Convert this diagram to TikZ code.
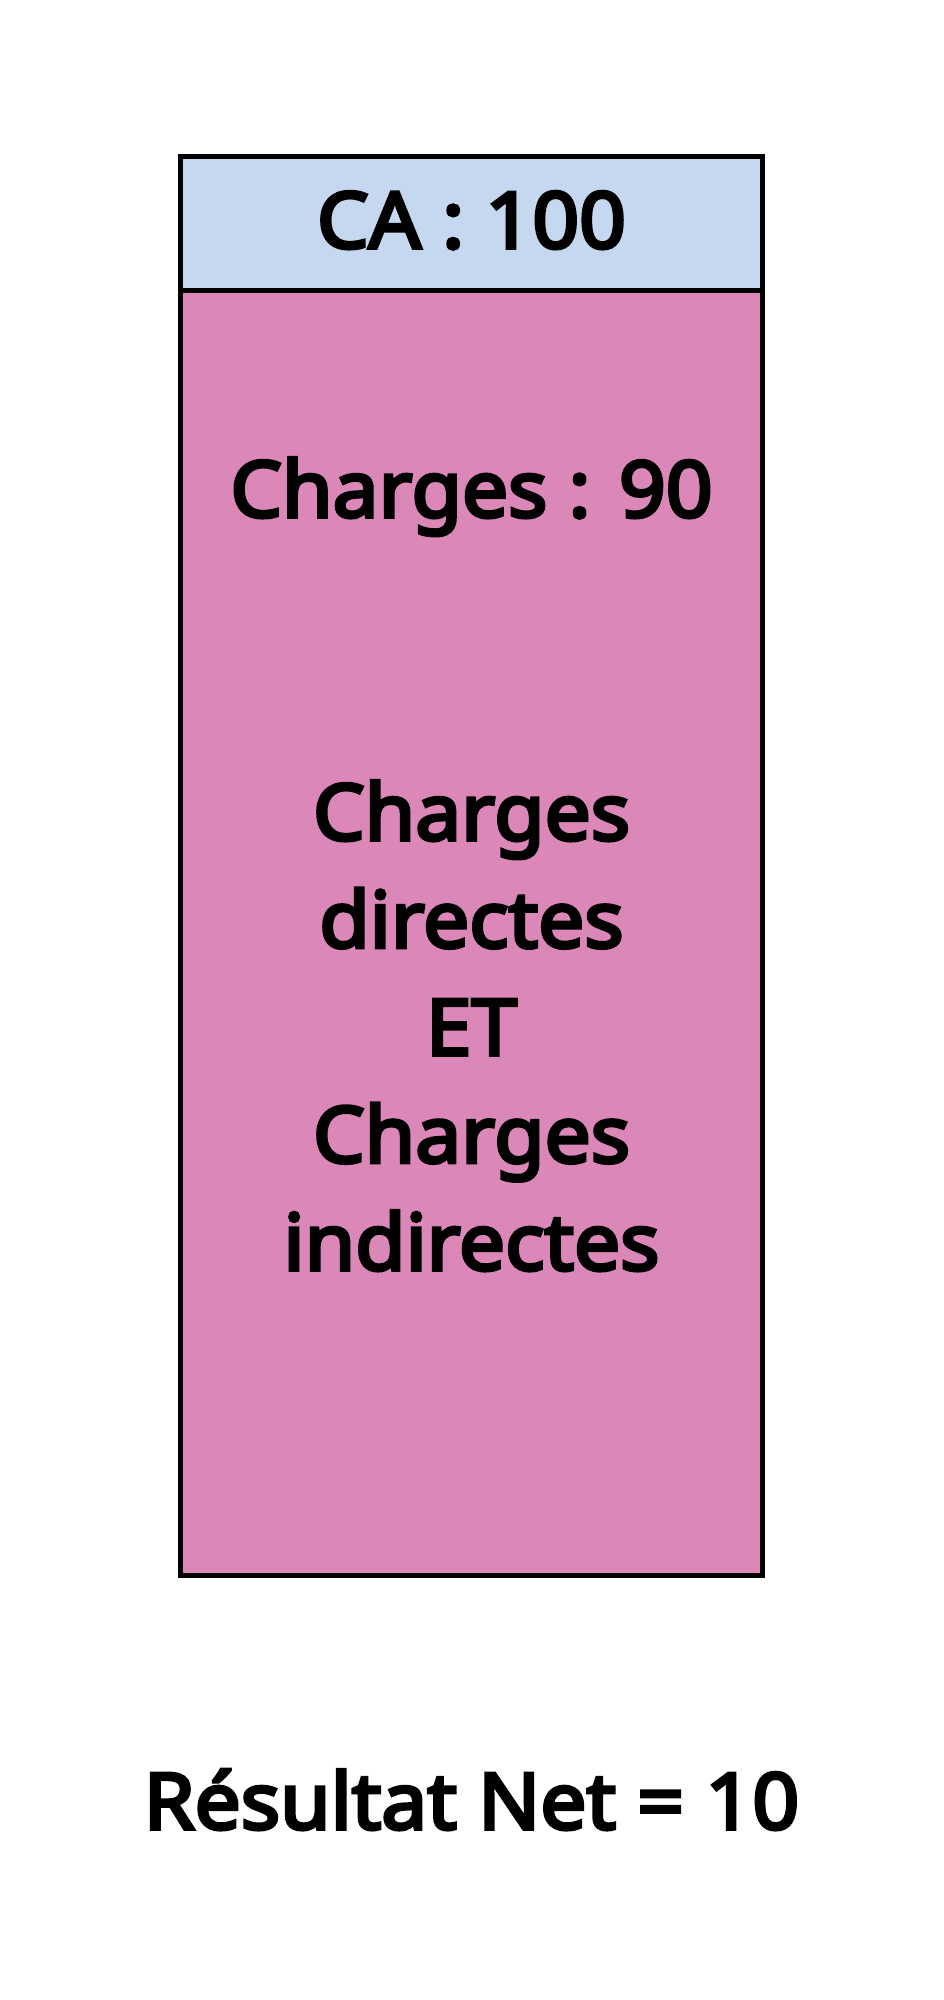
\documentclass[tikz,border=0pt]{standalone}
\usepackage{fontspec}
\setmainfont{Noto Sans}[FakeBold=4.5,FakeStretch=1.05]
\usetikzlibrary{positioning}
\definecolor{caBlue}{HTML}{C6D8EF}
\definecolor{chgPink}{HTML}{DB88B9}
\tikzset{
  bloc/.style={draw=black,line width=5pt,outer sep=0pt,inner sep=0pt,minimum width=582pt},
  lbl/.style={font=\fontsize{78}{94}\selectfont,inner sep=0pt,anchor=base}
}
\begin{document}
\begin{tikzpicture}[x=1pt,y=-1pt]%
  \useasboundingbox (0,0) rectangle (943,2000);
  \node[bloc,fill=caBlue,minimum height=134pt,anchor=north west] (ca) at (180.5,156.5) {};
  \node[bloc,fill=chgPink,minimum height=1285pt,below=0pt of ca] (charges) {};
  \node[lbl] (caLbl) at (471.5,248) {CA : 100};
  \node[lbl] (totLbl) at (471.5,517) {Charges : 90};
  \foreach \txt [count=\i] in {Charges,directes,{ET\ },Charges,indirectes} {
    \node[lbl] (detail\i) at (471.5,840+107.5*\i-107.5) {\txt};
  }
  \node[lbl] (resLbl) at (471.5,1829) {Résultat Net = 10};
\end{tikzpicture}
\end{document}
